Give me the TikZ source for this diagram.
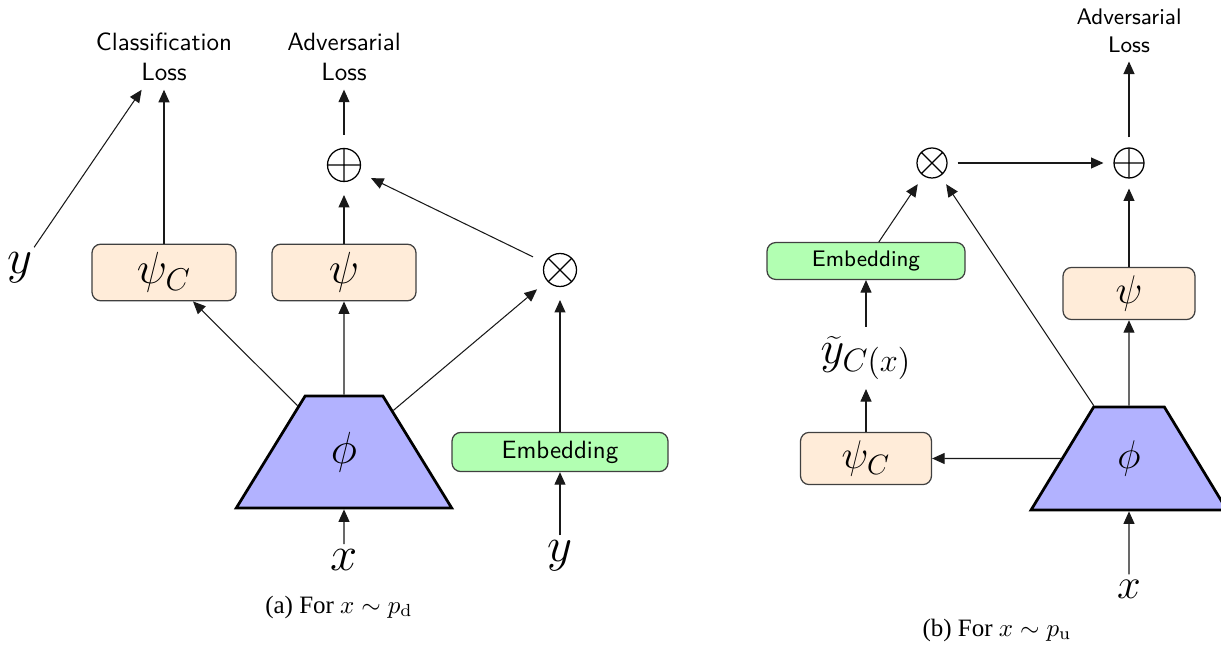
\RequirePackage{fix-cm}
\documentclass[tikz,border=0pt]{standalone}
\usepackage{fontspec}
\newfontfamily\capfont{Liberation Serif}
\usetikzlibrary{shapes.geometric,arrows.meta}

\tikzset{
  conn/.style={-{Triangle[length=5pt,width=4.4pt]}, line width=0.42pt, draw=black!90},
  lossA/.style={align=center, font=\sffamily\fontsize{10}{12}\selectfont},
  lossB/.style={align=center, font=\sffamily\fontsize{9}{11}\selectfont},
  headbox/.style={rectangle, rounded corners=3.5pt, draw=black!75, line width=0.5pt, fill=orange!15},
  embbox/.style={rectangle, rounded corners=3.5pt, draw=black!75, line width=0.5pt, fill=green!30},
  encoder/.style={trapezium, trapezium left angle=60, trapezium right angle=60,
    trapezium stretches=true, draw=black, line width=1.1pt, fill=blue!30, inner sep=0pt},
  sumsym/.style 2 args={circle, inner sep=0pt, minimum size=#1,
    path picture={\draw[line width=0.5pt] (path picture bounding box.center) circle[radius=#2]
      +(-#2,0pt) -- +(#2,0pt) +(0pt,-#2) -- +(0pt,#2);}},
  prodsym/.style 2 args={circle, inner sep=0pt, minimum size=#1,
    path picture={\draw[line width=0.5pt] (path picture bounding box.center) circle[radius=#2]
      +(45:#2) -- +(225:#2) +(135:#2) -- +(-45:#2);}},
  varA/.style={font=\fontsize{19.5}{22}\selectfont, inner sep=2pt},
  varB/.style={font=\fontsize{17}{20}\selectfont, inner sep=2pt},
  symA/.style={font=\fontsize{18}{20}\selectfont},
  symB/.style={font=\fontsize{16}{18}\selectfont},
  caption/.style={font=\capfont\fontsize{10}{12}\selectfont},
}

\begin{document}
\begin{tikzpicture}[x=0.4pt,y=-0.4pt]
\path[use as bounding box, clip] (0,0) rectangle (1221,645);

% ---------- (a) labelled data ----------
\node[lossA] (clsA) at (164,57) {Classification\\Loss};
\node[lossA] (advA) at (344,57) {Adversarial\\Loss};
\node[sumsym={23.6pt}{6.6pt}] (sumA) at (344,165) {};
\node[prodsym={23.6pt}{6.6pt}] (prodA) at (560,270) {};
\node[varA] (yA1) at (20,268) {$y$};
\node[headbox, symA, minimum width=57.6pt, minimum height=22pt] (psicA) at (164,272.5) {$\psi_C$};
\node[headbox, symA, minimum width=57.6pt, minimum height=22pt] (psiA) at (344,272.5) {$\psi$};
\node[encoder, symA, minimum width=86.4pt, minimum height=44.8pt] (phiA) at (344,452) {$\phi$};
\node[embbox, lossA, minimum width=86.4pt, minimum height=15.6pt] (embA) at (560,452) {Embedding};
\node[varA] (xA) at (344,560) {$x$};
\node[varA] (yA2) at (560,556) {$y$};
\node[caption] (capA) at (339,607) {(a) For $x \sim p_{\mathrm{d}}$};

\draw[conn] (yA1) -- (clsA);
\draw[conn] (psicA) -- (clsA);
\draw[conn] (psiA) -- (sumA);
\draw[conn] (sumA) -- (advA);
\draw[conn] (prodA) -- (sumA);
\draw[conn] (phiA) -- (psicA);
\draw[conn] (phiA) -- (psiA);
\draw[conn] (phiA) -- (prodA);
\draw[conn] (xA) -- (phiA);
\draw[conn] (yA2) -- (embA);
\draw[conn] (embA) -- (prodA);

% ---------- (b) unlabelled data ----------
\node[lossB] (advB) at (1129,31) {Adversarial\\Loss};
\node[sumsym={20pt}{6pt}] (sumB) at (1129,163) {};
\node[prodsym={20pt}{6pt}] (prodB) at (932,163) {};
\node[embbox, lossB, minimum width=79.2pt, minimum height=14.4pt] (embB) at (866,261) {Embedding};
\node[headbox, symB, minimum width=52.8pt, minimum height=20.4pt] (psiB) at (1129,293.5) {$\psi$};
\node[font=\fontsize{18.5}{21}\selectfont, inner sep=3.5pt] (ytB) at (866,358) {$\widetilde{y}_{C(x)}$};
\node[headbox, symB, minimum width=52.4pt, minimum height=20.4pt] (psicB) at (866,458.5) {$\psi_C$};
\node[encoder, symB, minimum width=78.4pt, minimum height=41.2pt] (phiB) at (1129,458.5) {$\phi$};
\node[varB] (xB) at (1129,589) {$x$};
\node[caption] (capB) at (997,630) {(b) For $x \sim p_{\mathrm{u}}$};

\draw[conn] (sumB) -- (advB);
\draw[conn] (psiB) -- (sumB);
\draw[conn] (prodB) -- (sumB);
\draw[conn] (embB) -- (prodB);
\draw[conn] (phiB) -- (prodB);
\draw[conn] (ytB) -- (embB);
\draw[conn] (psicB) -- (ytB);
\draw[conn] (phiB) -- (psicB);
\draw[conn] (phiB) -- (psiB);
\draw[conn] (xB) -- (phiB);
\end{tikzpicture}
\end{document}
